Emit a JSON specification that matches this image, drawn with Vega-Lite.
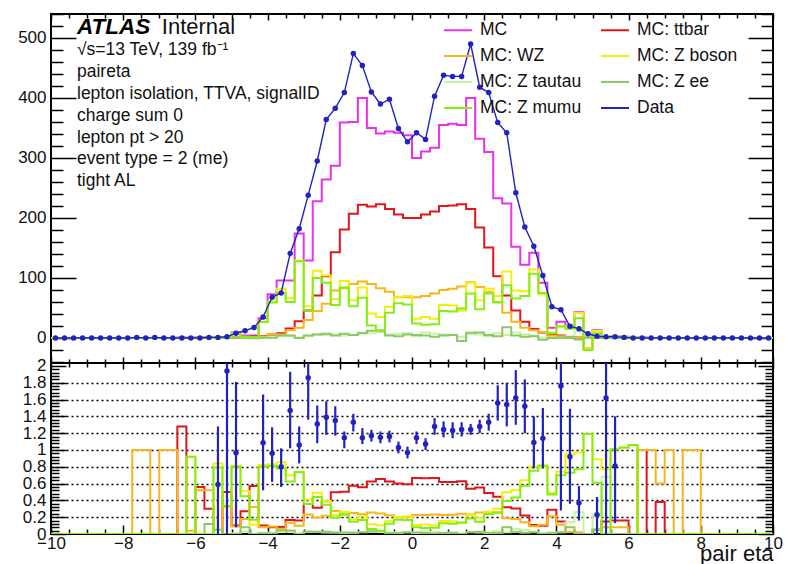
{
  "$schema": "https://vega.github.io/schema/vega-lite/v6.json",
  "background": "white",
  "padding": {"left": 0, "top": 12, "right": 12, "bottom": 0},
  "spacing": 0,
  "bounds": "flush",
  "config": {
    "font": "Liberation Sans",
    "view": {"stroke": "#000", "strokeWidth": 2},
    "axis": {"grid": false, "domain": false, "tickColor": "#000", "tickWidth": 1.5, "labelFontSize": 17, "labelColor": "#111", "labelFlush": false, "labelOverlap": false}
  },
  "datasets": {
    "hist": [
      {"e": -10, "mc": 0, "tt": 0, "wz": 0, "zb": 0, "ztt": 0, "zee": 0, "zmm": 0},
      {"e": -9.75, "mc": 0, "tt": 0, "wz": 0, "zb": 0, "ztt": 0, "zee": 0, "zmm": 0},
      {"e": -9.5, "mc": 0, "tt": 0, "wz": 0, "zb": 0, "ztt": 0, "zee": 0, "zmm": 0},
      {"e": -9.25, "mc": 0, "tt": 0, "wz": 0, "zb": 0, "ztt": 0, "zee": 0, "zmm": 0},
      {"e": -9, "mc": 0, "tt": 0, "wz": 0, "zb": 0, "ztt": 0, "zee": 0, "zmm": 0},
      {"e": -8.75, "mc": 0, "tt": 0, "wz": 0, "zb": 0, "ztt": 0, "zee": 0, "zmm": 0},
      {"e": -8.5, "mc": 0, "tt": 0, "wz": 0, "zb": 0, "ztt": 0, "zee": 0, "zmm": 0},
      {"e": -8.25, "mc": 0, "tt": 0, "wz": 0, "zb": 0, "ztt": 0, "zee": 0, "zmm": 0},
      {"e": -8, "mc": 0, "tt": 0, "wz": 0, "zb": 0, "ztt": 0, "zee": 0, "zmm": 0},
      {"e": -7.75, "mc": 0.05, "tt": 0, "wz": 0.05, "zb": 0, "ztt": 0, "zee": 0, "zmm": 0},
      {"e": -7.5, "mc": 0.05, "tt": 0, "wz": 0.05, "zb": 0, "ztt": 0, "zee": 0, "zmm": 0},
      {"e": -7.25, "mc": 0, "tt": 0, "wz": 0, "zb": 0, "ztt": 0, "zee": 0, "zmm": 0},
      {"e": -7, "mc": 0.05, "tt": 0, "wz": 0.05, "zb": 0, "ztt": 0, "zee": 0, "zmm": 0},
      {"e": -6.75, "mc": 0.05, "tt": 0, "wz": 0.05, "zb": 0, "ztt": 0, "zee": 0, "zmm": 0},
      {"e": -6.5, "mc": 0.2, "tt": 0.25, "wz": 0, "zb": -0.05, "ztt": 0, "zee": -0.05, "zmm": 0},
      {"e": -6.25, "mc": 0.5, "tt": 0, "wz": 0.02, "zb": 0.46, "ztt": 0, "zee": 0, "zmm": 0.46},
      {"e": -6, "mc": 0.6, "tt": 0.33, "wz": 0.31, "zb": -0.04, "ztt": 0, "zee": -0.04, "zmm": 0},
      {"e": -5.75, "mc": 0.8, "tt": 0.24, "wz": 0.42, "zb": 0.14, "ztt": 0, "zee": 0.1, "zmm": 0.04},
      {"e": -5.5, "mc": 1.2, "tt": 0, "wz": 0, "zb": 1.2, "ztt": 0, "zee": 0.06, "zmm": 1.14},
      {"e": -5.25, "mc": 1, "tt": 0.5, "wz": 0.33, "zb": 0.33, "ztt": 0, "zee": 0, "zmm": 0.33},
      {"e": -5, "mc": 9, "tt": 0.9, "wz": 0.8, "zb": 7.3, "ztt": 0.1, "zee": 0, "zmm": 7.2},
      {"e": -4.75, "mc": 4, "tt": 1.1, "wz": 0.7, "zb": 2.2, "ztt": 0.1, "zee": 0.3, "zmm": 1.8},
      {"e": -4.5, "mc": 4, "tt": 2.3, "wz": 1.3, "zb": 0.4, "ztt": 0, "zee": -0.3, "zmm": 0.7},
      {"e": -4.25, "mc": 33, "tt": 3.3, "wz": 2.6, "zb": 27.1, "ztt": 0.3, "zee": 0.3, "zmm": 26.5},
      {"e": -4, "mc": 73, "tt": 6, "wz": 6.5, "zb": 60.5, "ztt": 1, "zee": 0.5, "zmm": 59},
      {"e": -3.75, "mc": 96, "tt": 8, "wz": 6, "zb": 82, "ztt": 3, "zee": 4, "zmm": 75},
      {"e": -3.5, "mc": 96, "tt": 16, "wz": 13, "zb": 67, "ztt": 3, "zee": 4, "zmm": 60},
      {"e": -3.25, "mc": 174, "tt": 28, "wz": 17, "zb": 129, "ztt": 1, "zee": 0, "zmm": 128},
      {"e": -3, "mc": 129, "tt": 46, "wz": 30, "zb": 53, "ztt": 3, "zee": 4, "zmm": 46},
      {"e": -2.75, "mc": 228, "tt": 71, "wz": 45, "zb": 112, "ztt": 6, "zee": 6, "zmm": 100},
      {"e": -2.5, "mc": 264, "tt": 103, "wz": 57, "zb": 104, "ztt": 5, "zee": 7, "zmm": 92},
      {"e": -2.25, "mc": 287, "tt": 143, "wz": 79, "zb": 65, "ztt": 6, "zee": 4, "zmm": 55},
      {"e": -2, "mc": 359, "tt": 181, "wz": 83, "zb": 95, "ztt": 4, "zee": 7, "zmm": 84},
      {"e": -1.75, "mc": 360, "tt": 207, "wz": 90, "zb": 63, "ztt": 5, "zee": 5, "zmm": 53},
      {"e": -1.5, "mc": 400, "tt": 222, "wz": 94, "zb": 84, "ztt": 9, "zee": 8, "zmm": 67},
      {"e": -1.25, "mc": 350, "tt": 219, "wz": 90, "zb": 41, "ztt": 8, "zee": 12, "zmm": 21},
      {"e": -1, "mc": 341, "tt": 223, "wz": 83, "zb": 35, "ztt": 10, "zee": 12, "zmm": 13},
      {"e": -0.75, "mc": 344, "tt": 215, "wz": 77, "zb": 52, "ztt": 6, "zee": 4, "zmm": 42},
      {"e": -0.5, "mc": 342, "tt": 206, "wz": 68, "zb": 68, "ztt": 7, "zee": 3, "zmm": 58},
      {"e": -0.25, "mc": 338, "tt": 200, "wz": 68, "zb": 70, "ztt": 8, "zee": 6, "zmm": 56},
      {"e": 0, "mc": 300, "tt": 200, "wz": 68, "zb": 32, "ztt": 3, "zee": 5, "zmm": 24},
      {"e": 0.25, "mc": 311, "tt": 206, "wz": 70, "zb": 35, "ztt": 9, "zee": 4, "zmm": 22},
      {"e": 0.5, "mc": 317, "tt": 211, "wz": 74, "zb": 32, "ztt": 7, "zee": 2, "zmm": 23},
      {"e": 0.75, "mc": 355, "tt": 220, "wz": 80, "zb": 55, "ztt": 6, "zee": 4, "zmm": 45},
      {"e": 1, "mc": 357, "tt": 221, "wz": 82, "zb": 54, "ztt": 5, "zee": 5, "zmm": 44},
      {"e": 1.25, "mc": 355, "tt": 223, "wz": 86, "zb": 46, "ztt": 2, "zee": -5, "zmm": 49},
      {"e": 1.5, "mc": 400, "tt": 215, "wz": 93, "zb": 92, "ztt": 10, "zee": 8, "zmm": 74},
      {"e": 1.75, "mc": 332, "tt": 184, "wz": 85, "zb": 63, "ztt": 6, "zee": 9, "zmm": 48},
      {"e": 2, "mc": 310, "tt": 151, "wz": 77, "zb": 82, "ztt": 3, "zee": 5, "zmm": 74},
      {"e": 2.25, "mc": 233, "tt": 103, "wz": 60, "zb": 70, "ztt": 8, "zee": 3, "zmm": 59},
      {"e": 2.5, "mc": 224, "tt": 71, "wz": 42, "zb": 111, "ztt": 5, "zee": 18, "zmm": 88},
      {"e": 2.75, "mc": 152, "tt": 46, "wz": 27, "zb": 79, "ztt": 9, "zee": 4, "zmm": 66},
      {"e": 3, "mc": 122, "tt": 27, "wz": 17, "zb": 78, "ztt": 6, "zee": 2, "zmm": 70},
      {"e": 3.25, "mc": 142, "tt": 15, "wz": 13, "zb": 114, "ztt": 4, "zee": 3, "zmm": 107},
      {"e": 3.5, "mc": 92, "tt": 9, "wz": 10, "zb": 73, "ztt": 1, "zee": -3, "zmm": 75},
      {"e": 3.75, "mc": 17, "tt": 5, "wz": 3.6, "zb": 8.4, "ztt": 0.3, "zee": 0.1, "zmm": 8},
      {"e": 4, "mc": 27, "tt": 4, "wz": 3, "zb": 20, "ztt": 0.5, "zee": 0.5, "zmm": 19},
      {"e": 4.25, "mc": 21, "tt": 0.5, "wz": 0.5, "zb": 20, "ztt": 3, "zee": 1.7, "zmm": 15.3},
      {"e": 4.5, "mc": 43, "tt": 0.7, "wz": 0.7, "zb": 41.6, "ztt": 11, "zee": -2.4, "zmm": 33},
      {"e": 4.75, "mc": -17, "tt": 0.1, "wz": 0.1, "zb": -17.2, "ztt": 2, "zee": 1, "zmm": -20.2},
      {"e": 5, "mc": 13, "tt": 0.7, "wz": 0.7, "zb": 11.6, "ztt": 3, "zee": 0.6, "zmm": 8},
      {"e": 5.25, "mc": 1.2, "tt": 0.18, "wz": 0.1, "zb": 0.92, "ztt": 0.8, "zee": 0.1, "zmm": 0},
      {"e": 5.5, "mc": 2.5, "tt": 0.4, "wz": 0.2, "zb": 1.9, "ztt": 0, "zee": -0.6, "zmm": 2.5},
      {"e": 5.75, "mc": 2, "tt": 0.3, "wz": 0.15, "zb": 1.55, "ztt": 0, "zee": -0.5, "zmm": 2.05},
      {"e": 6, "mc": 1, "tt": 0, "wz": 0, "zb": 1, "ztt": 0, "zee": -0.06, "zmm": 1.06},
      {"e": 6.25, "mc": 0.2, "tt": 0.2, "wz": 0.2, "zb": -0.2, "ztt": 0, "zee": -0.2, "zmm": 0},
      {"e": 6.5, "mc": 0.05, "tt": 0, "wz": 0.05, "zb": 0, "ztt": 0, "zee": 0, "zmm": 0},
      {"e": 6.75, "mc": 0.1, "tt": 0.04, "wz": 0.06, "zb": 0, "ztt": 0, "zee": 0, "zmm": 0},
      {"e": 7, "mc": 0.05, "tt": 0, "wz": 0.05, "zb": 0, "ztt": 0, "zee": 0, "zmm": 0},
      {"e": 7.25, "mc": 0, "tt": 0, "wz": 0, "zb": 0, "ztt": 0, "zee": 0, "zmm": 0},
      {"e": 7.5, "mc": 0.05, "tt": 0, "wz": 0.05, "zb": 0, "ztt": 0, "zee": 0, "zmm": 0},
      {"e": 7.75, "mc": 0.05, "tt": 0, "wz": 0.05, "zb": 0, "ztt": 0, "zee": 0, "zmm": 0},
      {"e": 8, "mc": 0, "tt": 0, "wz": 0, "zb": 0, "ztt": 0, "zee": 0, "zmm": 0},
      {"e": 8.25, "mc": 0, "tt": 0, "wz": 0, "zb": 0, "ztt": 0, "zee": 0, "zmm": 0},
      {"e": 8.5, "mc": 0, "tt": 0, "wz": 0, "zb": 0, "ztt": 0, "zee": 0, "zmm": 0},
      {"e": 8.75, "mc": 0, "tt": 0, "wz": 0, "zb": 0, "ztt": 0, "zee": 0, "zmm": 0},
      {"e": 9, "mc": 0, "tt": 0, "wz": 0, "zb": 0, "ztt": 0, "zee": 0, "zmm": 0},
      {"e": 9.25, "mc": 0, "tt": 0, "wz": 0, "zb": 0, "ztt": 0, "zee": 0, "zmm": 0},
      {"e": 9.5, "mc": 0, "tt": 0, "wz": 0, "zb": 0, "ztt": 0, "zee": 0, "zmm": 0},
      {"e": 9.75, "mc": 0, "tt": 0, "wz": 0, "zb": 0, "ztt": 0, "zee": 0, "zmm": 0},
      {"e": 10, "mc": 0, "tt": 0, "wz": 0, "zb": 0, "ztt": 0, "zee": 0, "zmm": 0}
    ],
    "counts": [
      {"c": -9.875, "n": 0}, {"c": -9.625, "n": 0}, {"c": -9.375, "n": 0}, {"c": -9.125, "n": 0},
      {"c": -8.875, "n": 0}, {"c": -8.625, "n": 0}, {"c": -8.375, "n": 0}, {"c": -8.125, "n": 0},
      {"c": -7.875, "n": 0}, {"c": -7.625, "n": 1}, {"c": -7.375, "n": 0}, {"c": -7.125, "n": 1},
      {"c": -6.875, "n": 0}, {"c": -6.625, "n": 0}, {"c": -6.375, "n": 0}, {"c": -6.125, "n": 0},
      {"c": -5.875, "n": 0}, {"c": -5.625, "n": 1}, {"c": -5.375, "n": 1}, {"c": -5.125, "n": 2},
      {"c": -4.875, "n": 8}, {"c": -4.625, "n": 12}, {"c": -4.375, "n": 17.5}, {"c": -4.125, "n": 35},
      {"c": -3.875, "n": 68}, {"c": -3.625, "n": 75}, {"c": -3.375, "n": 141}, {"c": -3.125, "n": 182},
      {"c": -2.875, "n": 238}, {"c": -2.625, "n": 295}, {"c": -2.375, "n": 364}, {"c": -2.125, "n": 383},
      {"c": -1.875, "n": 409}, {"c": -1.625, "n": 474}, {"c": -1.375, "n": 454}, {"c": -1.125, "n": 410},
      {"c": -0.875, "n": 390}, {"c": -0.625, "n": 398}, {"c": -0.375, "n": 349}, {"c": -0.125, "n": 327},
      {"c": 0.125, "n": 342}, {"c": 0.375, "n": 331}, {"c": 0.625, "n": 403}, {"c": 0.875, "n": 438},
      {"c": 1.125, "n": 436}, {"c": 1.375, "n": 436}, {"c": 1.625, "n": 490}, {"c": 1.875, "n": 418},
      {"c": 2.125, "n": 409}, {"c": 2.375, "n": 359}, {"c": 2.625, "n": 342}, {"c": 2.875, "n": 242},
      {"c": 3.125, "n": 185}, {"c": 3.375, "n": 153}, {"c": 3.625, "n": 104}, {"c": 3.875, "n": 52},
      {"c": 4.125, "n": 47}, {"c": 4.375, "n": 19.5}, {"c": 4.625, "n": 15.5}, {"c": 4.875, "n": 7},
      {"c": 5.125, "n": 3}, {"c": 5.375, "n": 2}, {"c": 5.625, "n": 2}, {"c": 5.875, "n": 1},
      {"c": 6.125, "n": 0}, {"c": 6.375, "n": 0}, {"c": 6.625, "n": 0}, {"c": 6.875, "n": 0},
      {"c": 7.125, "n": 0}, {"c": 7.375, "n": 0}, {"c": 7.625, "n": 0}, {"c": 7.875, "n": 0},
      {"c": 8.125, "n": 0}, {"c": 8.375, "n": 0}, {"c": 8.625, "n": 0}, {"c": 8.875, "n": 0},
      {"c": 9.125, "n": 0}, {"c": 9.375, "n": 0}, {"c": 9.625, "n": 0}, {"c": 9.875, "n": 0}
    ],
    "ratio": [
      {"e": -10, "tt": 0, "wz": 0, "zb": 0, "ztt": 0, "zee": 0, "zmm": 0},
      {"e": -7.75, "tt": 0, "wz": 1, "zb": 0, "ztt": 0, "zee": 0, "zmm": 0},
      {"e": -7.5, "tt": 0, "wz": 1, "zb": 0, "ztt": 0, "zee": 0, "zmm": 0},
      {"e": -7.25, "tt": 0, "wz": 0, "zb": 0, "ztt": 0, "zee": 0, "zmm": 0},
      {"e": -7, "tt": 0, "wz": 1, "zb": 0, "ztt": 0, "zee": 0, "zmm": 0},
      {"e": -6.75, "tt": 0, "wz": 1, "zb": 0, "ztt": 0, "zee": 0, "zmm": 0},
      {"e": -6.5, "tt": 1.28, "wz": 0, "zb": 0, "ztt": 0, "zee": 0, "zmm": 0},
      {"e": -6.25, "tt": 0, "wz": 0.04, "zb": 0.92, "ztt": 0, "zee": 0, "zmm": 0.92},
      {"e": -6, "tt": 0.56, "wz": 0.52, "zb": 0, "ztt": 0, "zee": 0, "zmm": 0},
      {"e": -5.75, "tt": 0.3, "wz": 0.52, "zb": 0, "ztt": 0, "zee": 0.12, "zmm": 0},
      {"e": -5.5, "tt": 0, "wz": 0, "zb": 0.84, "ztt": 0, "zee": 0.05, "zmm": 0.79},
      {"e": -5.25, "tt": 0.5, "wz": 0.33, "zb": 0.33, "ztt": 0, "zee": 0, "zmm": 0.33},
      {"e": -5, "tt": 0.1, "wz": 0.09, "zb": 0.81, "ztt": 0.01, "zee": 0, "zmm": 0.8},
      {"e": -4.75, "tt": 0.27, "wz": 0.18, "zb": 0.51, "ztt": 0.03, "zee": 0.08, "zmm": 0.45},
      {"e": -4.5, "tt": 0.57, "wz": 0.32, "zb": 0.11, "ztt": 0, "zee": 0, "zmm": 0.17},
      {"e": -4.25, "tt": 0.1, "wz": 0.08, "zb": 0.82, "ztt": 0.01, "zee": 0.01, "zmm": 0.8},
      {"e": -4, "tt": 0.08, "wz": 0.09, "zb": 0.83, "ztt": 0.014, "zee": 0.007, "zmm": 0.81},
      {"e": -3.75, "tt": 0.083, "wz": 0.063, "zb": 0.854, "ztt": 0.031, "zee": 0.042, "zmm": 0.78},
      {"e": -3.5, "tt": 0.167, "wz": 0.135, "zb": 0.7, "ztt": 0.031, "zee": 0.042, "zmm": 0.625},
      {"e": -3.25, "tt": 0.161, "wz": 0.098, "zb": 0.741, "ztt": 0.006, "zee": 0, "zmm": 0.736},
      {"e": -3, "tt": 0.357, "wz": 0.233, "zb": 0.411, "ztt": 0.023, "zee": 0.031, "zmm": 0.357},
      {"e": -2.75, "tt": 0.311, "wz": 0.197, "zb": 0.491, "ztt": 0.026, "zee": 0.026, "zmm": 0.439},
      {"e": -2.5, "tt": 0.39, "wz": 0.216, "zb": 0.394, "ztt": 0.019, "zee": 0.027, "zmm": 0.348},
      {"e": -2.25, "tt": 0.498, "wz": 0.275, "zb": 0.226, "ztt": 0.021, "zee": 0.014, "zmm": 0.192},
      {"e": -2, "tt": 0.504, "wz": 0.231, "zb": 0.265, "ztt": 0.011, "zee": 0.019, "zmm": 0.234},
      {"e": -1.75, "tt": 0.575, "wz": 0.25, "zb": 0.175, "ztt": 0.014, "zee": 0.014, "zmm": 0.147},
      {"e": -1.5, "tt": 0.555, "wz": 0.235, "zb": 0.21, "ztt": 0.023, "zee": 0.02, "zmm": 0.168},
      {"e": -1.25, "tt": 0.626, "wz": 0.257, "zb": 0.117, "ztt": 0.023, "zee": 0.034, "zmm": 0.06},
      {"e": -1, "tt": 0.654, "wz": 0.243, "zb": 0.103, "ztt": 0.029, "zee": 0.035, "zmm": 0.038},
      {"e": -0.75, "tt": 0.625, "wz": 0.224, "zb": 0.151, "ztt": 0.017, "zee": 0.012, "zmm": 0.122},
      {"e": -0.5, "tt": 0.602, "wz": 0.199, "zb": 0.199, "ztt": 0.02, "zee": 0.009, "zmm": 0.17},
      {"e": -0.25, "tt": 0.592, "wz": 0.201, "zb": 0.207, "ztt": 0.024, "zee": 0.018, "zmm": 0.166},
      {"e": 0, "tt": 0.667, "wz": 0.227, "zb": 0.107, "ztt": 0.01, "zee": 0.017, "zmm": 0.08},
      {"e": 0.25, "tt": 0.662, "wz": 0.225, "zb": 0.113, "ztt": 0.029, "zee": 0.013, "zmm": 0.071},
      {"e": 0.5, "tt": 0.666, "wz": 0.233, "zb": 0.101, "ztt": 0.022, "zee": 0.006, "zmm": 0.073},
      {"e": 0.75, "tt": 0.62, "wz": 0.225, "zb": 0.155, "ztt": 0.017, "zee": 0.011, "zmm": 0.127},
      {"e": 1, "tt": 0.619, "wz": 0.23, "zb": 0.151, "ztt": 0.014, "zee": 0.014, "zmm": 0.123},
      {"e": 1.25, "tt": 0.628, "wz": 0.242, "zb": 0.13, "ztt": 0.006, "zee": 0, "zmm": 0.138},
      {"e": 1.5, "tt": 0.538, "wz": 0.233, "zb": 0.23, "ztt": 0.025, "zee": 0.02, "zmm": 0.185},
      {"e": 1.75, "tt": 0.554, "wz": 0.256, "zb": 0.19, "ztt": 0.018, "zee": 0.027, "zmm": 0.145},
      {"e": 2, "tt": 0.487, "wz": 0.248, "zb": 0.265, "ztt": 0.01, "zee": 0.016, "zmm": 0.239},
      {"e": 2.25, "tt": 0.442, "wz": 0.258, "zb": 0.3, "ztt": 0.034, "zee": 0.013, "zmm": 0.253},
      {"e": 2.5, "tt": 0.317, "wz": 0.188, "zb": 0.496, "ztt": 0.022, "zee": 0.08, "zmm": 0.393},
      {"e": 2.75, "tt": 0.303, "wz": 0.178, "zb": 0.52, "ztt": 0.059, "zee": 0.026, "zmm": 0.434},
      {"e": 3, "tt": 0.221, "wz": 0.139, "zb": 0.639, "ztt": 0.049, "zee": 0.016, "zmm": 0.574},
      {"e": 3.25, "tt": 0.106, "wz": 0.092, "zb": 0.803, "ztt": 0.028, "zee": 0.021, "zmm": 0.754},
      {"e": 3.5, "tt": 0.098, "wz": 0.109, "zb": 0.793, "ztt": 0.011, "zee": 0, "zmm": 0.815},
      {"e": 3.75, "tt": 0.29, "wz": 0.21, "zb": 0.49, "ztt": 0.02, "zee": 0.01, "zmm": 0.47},
      {"e": 4, "tt": 0.15, "wz": 0.11, "zb": 0.74, "ztt": 0.02, "zee": 0.02, "zmm": 0.7},
      {"e": 4.25, "tt": 0.024, "wz": 0.024, "zb": 0.95, "ztt": 0.14, "zee": 0.08, "zmm": 0.73},
      {"e": 4.5, "tt": 0.016, "wz": 0.016, "zb": 0.97, "ztt": 0.26, "zee": 0, "zmm": 0.77},
      {"e": 4.75, "tt": 0, "wz": 0, "zb": 1.19, "ztt": 0, "zee": 0, "zmm": 1.19},
      {"e": 5, "tt": 0.05, "wz": 0.05, "zb": 0.89, "ztt": 0.23, "zee": 0.05, "zmm": 0.61},
      {"e": 5.25, "tt": 0.15, "wz": 0.08, "zb": 0.77, "ztt": 0.68, "zee": 0, "zmm": 0},
      {"e": 5.5, "tt": 0.16, "wz": 0.08, "zb": 1.01, "ztt": 0, "zee": 0, "zmm": 1.01},
      {"e": 5.75, "tt": 0.16, "wz": 0.08, "zb": 1.03, "ztt": 0, "zee": 0, "zmm": 1.03},
      {"e": 6, "tt": 0, "wz": 0, "zb": 1.06, "ztt": 0, "zee": 0, "zmm": 1.06},
      {"e": 6.25, "tt": 1, "wz": 1, "zb": 0, "ztt": 0, "zee": 0, "zmm": 0},
      {"e": 6.5, "tt": 0, "wz": 1, "zb": 0, "ztt": 0, "zee": 0, "zmm": 0},
      {"e": 6.75, "tt": 0.38, "wz": 0.6, "zb": 0, "ztt": 0, "zee": 0, "zmm": 0},
      {"e": 7, "tt": 0, "wz": 1, "zb": 0, "ztt": 0, "zee": 0, "zmm": 0},
      {"e": 7.25, "tt": 0, "wz": 0, "zb": 0, "ztt": 0, "zee": 0, "zmm": 0},
      {"e": 7.5, "tt": 0, "wz": 1, "zb": 0, "ztt": 0, "zee": 0, "zmm": 0},
      {"e": 7.75, "tt": 0, "wz": 1, "zb": 0, "ztt": 0, "zee": 0, "zmm": 0},
      {"e": 8, "tt": 0, "wz": 0, "zb": 0, "ztt": 0, "zee": 0, "zmm": 0},
      {"e": 10, "tt": 0, "wz": 0, "zb": 0, "ztt": 0, "zee": 0, "zmm": 0}
    ],
    "dratio": [
      {"c": -5.375, "r": 0.59, "lo": 0, "hi": 1.28},
      {"c": -5.125, "r": 1.94, "lo": 0, "hi": 4},
      {"c": -4.875, "r": 0.966, "lo": 0.08, "hi": 1.81},
      {"c": -4.125, "r": 1.085, "lo": 0.52, "hi": 1.66},
      {"c": -3.875, "r": 0.96, "lo": 0.62, "hi": 1.27},
      {"c": -3.625, "r": 0.8, "lo": 0.56, "hi": 1.02},
      {"c": -3.375, "r": 1.47, "lo": 1.02, "hi": 1.93},
      {"c": -3.125, "r": 1.06, "lo": 0.84, "hi": 1.28},
      {"c": -2.875, "r": 1.86, "lo": 1.36, "hi": 2.4},
      {"c": -2.625, "r": 1.31, "lo": 1.08, "hi": 1.53},
      {"c": -2.375, "r": 1.39, "lo": 1.18, "hi": 1.58},
      {"c": -2.125, "r": 1.35, "lo": 1.17, "hi": 1.52},
      {"c": -1.875, "r": 1.145, "lo": 1.02, "hi": 1.22},
      {"c": -1.625, "r": 1.33, "lo": 1.22, "hi": 1.43},
      {"c": -1.375, "r": 1.145, "lo": 1.07, "hi": 1.26},
      {"c": -1.125, "r": 1.17, "lo": 1.1, "hi": 1.24},
      {"c": -0.875, "r": 1.15, "lo": 1.08, "hi": 1.22},
      {"c": -0.625, "r": 1.16, "lo": 1.09, "hi": 1.23},
      {"c": -0.375, "r": 1.03, "lo": 0.96, "hi": 1.1},
      {"c": -0.125, "r": 0.97, "lo": 0.9, "hi": 1.04},
      {"c": 0.125, "r": 1.145, "lo": 1.07, "hi": 1.22},
      {"c": 0.375, "r": 1.07, "lo": 1.0, "hi": 1.14},
      {"c": 0.625, "r": 1.28, "lo": 1.18, "hi": 1.38},
      {"c": 0.875, "r": 1.245, "lo": 1.15, "hi": 1.34},
      {"c": 1.125, "r": 1.233, "lo": 1.14, "hi": 1.33},
      {"c": 1.375, "r": 1.245, "lo": 1.16, "hi": 1.33},
      {"c": 1.625, "r": 1.245, "lo": 1.18, "hi": 1.31},
      {"c": 1.875, "r": 1.28, "lo": 1.2, "hi": 1.36},
      {"c": 2.125, "r": 1.33, "lo": 1.23, "hi": 1.43},
      {"c": 2.375, "r": 1.56, "lo": 1.35, "hi": 1.77},
      {"c": 2.625, "r": 1.54, "lo": 1.28, "hi": 1.8},
      {"c": 2.875, "r": 1.62, "lo": 1.3, "hi": 1.95},
      {"c": 3.125, "r": 1.52, "lo": 1.2, "hi": 1.84},
      {"c": 3.375, "r": 1.09, "lo": 0.78, "hi": 1.4},
      {"c": 3.625, "r": 1.14, "lo": 0.78, "hi": 1.5},
      {"c": 4.125, "r": 1.76, "lo": 0.28, "hi": 3},
      {"c": 4.375, "r": 0.92, "lo": 0.36, "hi": 1.49},
      {"c": 4.625, "r": 0.37, "lo": 0.16, "hi": 0.57},
      {"c": 5.125, "r": 0.23, "lo": 0, "hi": 0.44},
      {"c": 5.375, "r": 1.62, "lo": 0, "hi": 3},
      {"c": 5.625, "r": 0.81, "lo": 0.13, "hi": 1.4}
    ]
  },
  "vconcat": [
    {
      "width": 722,
      "height": 349,
      "resolve": {"axis": {"x": "independent", "y": "independent"}},
      "layer": [
        {
          "data": {"name": "hist"},
          "transform": [{"fold": ["mc", "tt", "wz", "zb", "ztt", "zee", "zmm"], "as": ["key", "value"]}],
          "mark": {"type": "line", "interpolate": "step-after", "strokeWidth": 2},
          "encoding": {
            "x": {"field": "e", "type": "quantitative", "scale": {"domain": [-10, 10], "nice": false, "zero": false},
                  "axis": {"orient": "bottom", "values": [-10, -8, -6, -4, -2, 0, 2, 4, 6, 8, 10], "labels": false, "tickSize": -6, "title": null, "minExtent": 0, "maxExtent": 0}},
            "y": {"field": "value", "type": "quantitative", "scale": {"domain": [-41.7, 540], "nice": false, "zero": false},
                  "axis": {"orient": "left", "values": [0, 100, 200, 300, 400, 500], "tickSize": -25, "labelPadding": 30, "title": null, "minExtent": 50, "maxExtent": 50}},
            "color": {"field": "key", "type": "nominal",
                      "scale": {"domain": ["mc", "tt", "wz", "zb", "ztt", "zee", "zmm", "data"],
                                "range": ["#e832e8", "#e4141b", "#f8b61c", "#f2ef0a", "#c4f4a4", "#8cc866", "#84ee14", "#2222c0"]},
                      "legend": {"orient": "none", "legendX": 392, "legendY": 1, "columns": 2, "direction": "horizontal", "title": null,
                                 "symbolType": "stroke", "symbolSize": 784, "symbolStrokeWidth": 2,
                                 "labelFontSize": 17.5, "labelColor": "#111", "labelOffset": 7,
                                 "columnPadding": 15, "rowPadding": 2, "padding": 0, "labelLimit": 200,
                                 "labelExpr": "{'mc':'MC','tt':'MC: ttbar','wz':'MC: WZ','zb':'MC: Z boson','ztt':'MC: Z tautau','zee':'MC: Z ee','zmm':'MC: Z mumu','data':'Data'}[datum.label]"}}
          }
        },
        {
          "data": {"name": "counts"},
          "mark": {"type": "line", "strokeWidth": 1.4},
          "encoding": {
            "x": {"field": "c", "type": "quantitative", "axis": null},
            "y": {"field": "n", "type": "quantitative", "axis": null},
            "color": {"datum": "data"}
          }
        },
        {
          "data": {"name": "counts"},
          "mark": {"type": "circle", "size": 30, "opacity": 1},
          "encoding": {
            "x": {"field": "c", "type": "quantitative", "axis": null},
            "y": {"field": "n", "type": "quantitative", "axis": null},
            "color": {"datum": "data"}
          }
        },
        {
          "data": {"name": "counts"},
          "mark": {"type": "point", "opacity": 0},
          "encoding": {
            "x": {"field": "c", "type": "quantitative",
                  "axis": {"orient": "bottom", "values": [-9.5, -9, -8.5, -7.5, -7, -6.5, -5.5, -5, -4.5, -3.5, -3, -2.5, -1.5, -1, -0.5, 0.5, 1, 1.5, 2.5, 3, 3.5, 4.5, 5, 5.5, 6.5, 7, 7.5, 8.5, 9, 9.5], "labels": false, "tickSize": -4, "title": null, "minExtent": 0, "maxExtent": 0}},
            "y": {"field": "n", "type": "quantitative",
                  "axis": {"orient": "left", "values": [-40, -20, 20, 40, 60, 80, 120, 140, 160, 180, 220, 240, 260, 280, 320, 340, 360, 380, 420, 440, 460, 480, 520, 540], "labels": false, "tickSize": -12, "title": null, "minExtent": 0, "maxExtent": 0}}
          }
        },
        {
          "data": {"name": "counts"},
          "mark": {"type": "point", "opacity": 0},
          "encoding": {
            "x": {"field": "c", "type": "quantitative",
                  "axis": {"orient": "top", "values": [-10, -8, -6, -4, -2, 0, 2, 4, 6, 8, 10], "labels": false, "tickSize": -6, "title": null, "minExtent": 0, "maxExtent": 0}},
            "y": {"field": "n", "type": "quantitative",
                  "axis": {"orient": "right", "values": [0, 100, 200, 300, 400, 500], "labels": false, "tickSize": -25, "title": null, "minExtent": 0, "maxExtent": 0}}
          }
        },
        {
          "data": {"name": "counts"},
          "mark": {"type": "point", "opacity": 0},
          "encoding": {
            "x": {"field": "c", "type": "quantitative",
                  "axis": {"orient": "top", "values": [-9.5, -9, -8.5, -7.5, -7, -6.5, -5.5, -5, -4.5, -3.5, -3, -2.5, -1.5, -1, -0.5, 0.5, 1, 1.5, 2.5, 3, 3.5, 4.5, 5, 5.5, 6.5, 7, 7.5, 8.5, 9, 9.5], "labels": false, "tickSize": -4, "title": null, "minExtent": 0, "maxExtent": 0}},
            "y": {"field": "n", "type": "quantitative",
                  "axis": {"orient": "right", "values": [-40, -20, 20, 40, 60, 80, 120, 140, 160, 180, 220, 240, 260, 280, 320, 340, 360, 380, 420, 440, 460, 480, 520, 540], "labels": false, "tickSize": -12, "title": null, "minExtent": 0, "maxExtent": 0}}
          }
        },
        {
          "data": {"values": [{}]},
          "mark": {"type": "text", "align": "left", "baseline": "alphabetic", "fontSize": 22.5, "fontWeight": "bold", "fontStyle": "italic", "color": "#000"},
          "encoding": {
            "x": {"datum": -9.28, "type": "quantitative", "axis": null},
            "y": {"datum": 506, "type": "quantitative", "axis": null},
            "text": {"value": "ATLAS"}
          }
        },
        {
          "data": {"values": [{}]},
          "mark": {"type": "text", "align": "left", "baseline": "alphabetic", "fontSize": 22, "color": "#111"},
          "encoding": {
            "x": {"datum": -6.93, "type": "quantitative", "axis": null},
            "y": {"datum": 506, "type": "quantitative", "axis": null},
            "text": {"value": "Internal"}
          }
        },
        {
          "data": {"values": [{}]},
          "mark": {"type": "text", "align": "left", "baseline": "alphabetic", "fontSize": 17.5, "lineHeight": 21.8, "color": "#111"},
          "encoding": {
            "x": {"datum": -9.28, "type": "quantitative", "axis": null},
            "y": {"datum": 471, "type": "quantitative", "axis": null},
            "text": {"value": ["√s=13 TeV, 139 fb⁻¹", "paireta", "lepton isolation, TTVA, signalID", "charge sum 0", "lepton pt > 20", "event type = 2 (me)", "tight AL"]}
          }
        }
      ]
    },
    {
      "width": 722,
      "height": 171,
      "resolve": {"axis": {"x": "independent", "y": "independent"}, "scale": {"color": "independent"}},
      "layer": [
        {
          "data": {"name": "dratio"},
          "mark": {"type": "point", "opacity": 0},
          "encoding": {
            "x": {"field": "c", "type": "quantitative", "axis": null},
            "y": {"field": "r", "type": "quantitative",
                  "axis": {"orient": "left", "values": [0.2, 0.4, 0.6, 0.8, 1, 1.2, 1.4, 1.6, 1.8], "grid": true, "gridDash": [2, 3], "gridColor": "#000", "gridWidth": 1.3, "gridOpacity": 1, "ticks": false, "labels": false, "title": null, "minExtent": 0, "maxExtent": 0}}
          }
        },
        {
          "data": {"name": "ratio"},
          "transform": [{"fold": ["tt", "wz", "zb", "ztt", "zee", "zmm"], "as": ["key", "value"]}],
          "mark": {"type": "line", "interpolate": "step-after", "strokeWidth": 2, "clip": true},
          "encoding": {
            "x": {"field": "e", "type": "quantitative", "scale": {"domain": [-10, 10], "nice": false, "zero": false},
                  "axis": {"orient": "bottom", "values": [-10, -8, -6, -4, -2, 0, 2, 4, 6, 8, 10], "tickSize": -9, "labelPadding": 10, "format": "d",
                           "title": "pair eta", "titleFontSize": 22, "titleFontWeight": "normal", "titleColor": "#111", "titleAlign": "right", "titleAnchor": "end", "titleBaseline": "alphabetic", "titleX": 722, "titleY": 26}},
            "y": {"field": "value", "type": "quantitative", "scale": {"domain": [0, 2.035], "nice": false, "zero": false},
                  "axis": {"orient": "left", "values": [0, 0.2, 0.4, 0.6, 0.8, 1, 1.2, 1.4, 1.6, 1.8, 2], "format": "~g", "tickSize": -15, "labelPadding": 20, "title": null, "minExtent": 50, "maxExtent": 50}},
            "color": {"field": "key", "type": "nominal",
                      "scale": {"domain": ["tt", "wz", "zb", "ztt", "zee", "zmm"],
                                "range": ["#e4141b", "#f8b61c", "#f2ef0a", "#c4f4a4", "#8cc866", "#84ee14"]},
                      "legend": null}
          }
        },
        {
          "data": {"name": "dratio"},
          "mark": {"type": "rule", "strokeWidth": 2.2, "color": "#2222c0", "clip": true},
          "encoding": {
            "x": {"field": "c", "type": "quantitative", "axis": null},
            "y": {"field": "lo", "type": "quantitative", "axis": null},
            "y2": {"field": "hi"}
          }
        },
        {
          "data": {"name": "dratio"},
          "mark": {"type": "circle", "size": 30, "opacity": 1, "color": "#2222c0", "clip": true},
          "encoding": {
            "x": {"field": "c", "type": "quantitative", "axis": null},
            "y": {"field": "r", "type": "quantitative", "axis": null}
          }
        },
        {
          "data": {"name": "dratio"},
          "mark": {"type": "point", "opacity": 0},
          "encoding": {
            "x": {"field": "c", "type": "quantitative",
                  "axis": {"orient": "bottom", "values": [-9.5, -9, -8.5, -7.5, -7, -6.5, -5.5, -5, -4.5, -3.5, -3, -2.5, -1.5, -1, -0.5, 0.5, 1, 1.5, 2.5, 3, 3.5, 4.5, 5, 5.5, 6.5, 7, 7.5, 8.5, 9, 9.5], "labels": false, "tickSize": -5, "title": null, "minExtent": 0, "maxExtent": 0}},
            "y": {"field": "r", "type": "quantitative",
                  "axis": {"orient": "left", "values": [0.04, 0.08, 0.12, 0.16, 0.24, 0.28, 0.32, 0.36, 0.44, 0.48, 0.52, 0.56, 0.64, 0.68, 0.72, 0.76, 0.84, 0.88, 0.92, 0.96, 1.04, 1.08, 1.12, 1.16, 1.24, 1.28, 1.32, 1.36, 1.44, 1.48, 1.52, 1.56, 1.64, 1.68, 1.72, 1.76, 1.84, 1.88, 1.92, 1.96], "labels": false, "tickSize": -8, "title": null, "minExtent": 0, "maxExtent": 0}}
          }
        },
        {
          "data": {"name": "dratio"},
          "mark": {"type": "point", "opacity": 0},
          "encoding": {
            "x": {"field": "c", "type": "quantitative",
                  "axis": {"orient": "top", "values": [-10, -8, -6, -4, -2, 0, 2, 4, 6, 8, 10], "labels": false, "tickSize": -6, "title": null, "minExtent": 0, "maxExtent": 0}},
            "y": {"field": "r", "type": "quantitative",
                  "axis": {"orient": "right", "values": [0, 0.2, 0.4, 0.6, 0.8, 1, 1.2, 1.4, 1.6, 1.8, 2], "labels": false, "tickSize": -15, "title": null, "minExtent": 0, "maxExtent": 0}}
          }
        },
        {
          "data": {"name": "dratio"},
          "mark": {"type": "point", "opacity": 0},
          "encoding": {
            "x": {"field": "c", "type": "quantitative",
                  "axis": {"orient": "top", "values": [-9.5, -9, -8.5, -7.5, -7, -6.5, -5.5, -5, -4.5, -3.5, -3, -2.5, -1.5, -1, -0.5, 0.5, 1, 1.5, 2.5, 3, 3.5, 4.5, 5, 5.5, 6.5, 7, 7.5, 8.5, 9, 9.5], "labels": false, "tickSize": -4, "title": null, "minExtent": 0, "maxExtent": 0}},
            "y": {"field": "r", "type": "quantitative",
                  "axis": {"orient": "right", "values": [0.04, 0.08, 0.12, 0.16, 0.24, 0.28, 0.32, 0.36, 0.44, 0.48, 0.52, 0.56, 0.64, 0.68, 0.72, 0.76, 0.84, 0.88, 0.92, 0.96, 1.04, 1.08, 1.12, 1.16, 1.24, 1.28, 1.32, 1.36, 1.44, 1.48, 1.52, 1.56, 1.64, 1.68, 1.72, 1.76, 1.84, 1.88, 1.92, 1.96], "labels": false, "tickSize": -8, "title": null, "minExtent": 0, "maxExtent": 0}}
          }
        }
      ]
    }
  ]
}
